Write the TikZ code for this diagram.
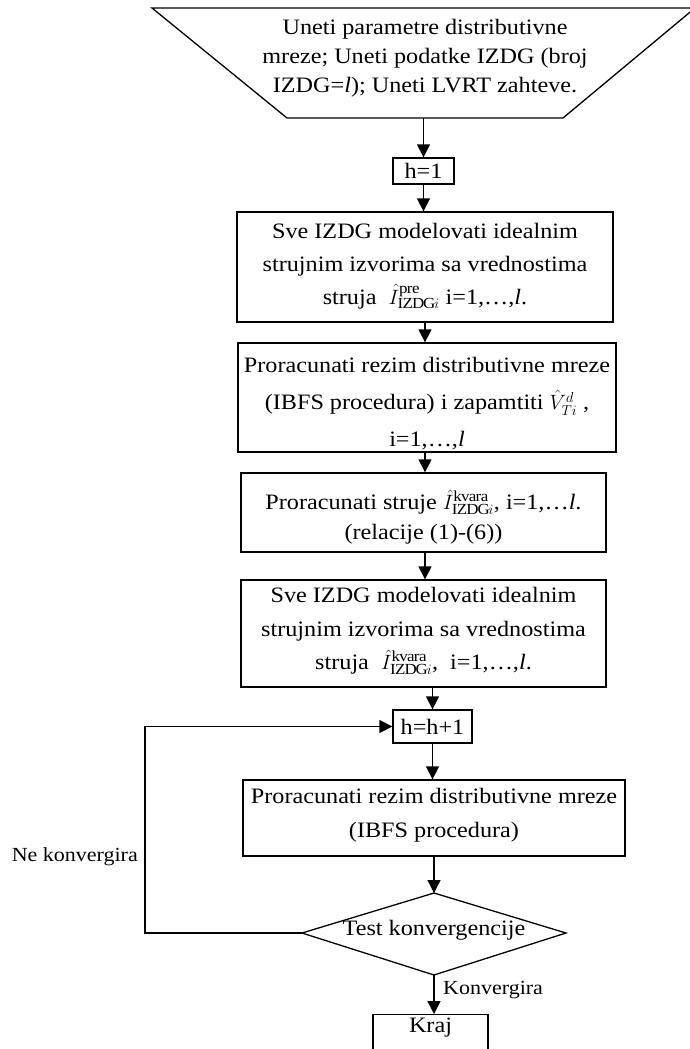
\documentclass[tikz,border=0pt]{standalone}
\usepackage{fontspec}
\setmainfont{Liberation Serif}[FakeStretch=1.1]
\usetikzlibrary{arrows.meta}
\begin{document}
\begin{tikzpicture}[x=1pt,y=-1pt,
  frame/.style={draw, line width=1.3pt, inner sep=0pt},
  txt/.style={align=center, inner sep=0pt, font=\fontsize{22}{#1}\selectfont},
  txt/.default=33,
  arr/.style={line width=1.3pt, -{Triangle[length=13pt,width=13pt]}},
  lbl/.style={inner sep=0pt, font=\fontsize{20}{24}\selectfont}
]
\useasboundingbox (0,0) rectangle (690,1049);
% input trapezoid
\draw[line width=1.3pt] (152,8) -- (695,8) -- (563,118) -- (287,118) -- cycle;
\node[txt=29] (intxt) at (425,58) {Uneti parametre distributivne\\mreze; Uneti podatke IZDG (broj\\IZDG=\textit{l}); Uneti LVRT zahteve.};
\coordinate (inb) at (423.5,118);
% h=1
\node[frame, minimum width=61pt, minimum height=26pt, font=\fontsize{22}{26}\selectfont] (h1) at (423.5,171) {h=1};
% box 2
\node[frame, minimum width=376pt, minimum height=110pt] (b2) at (425,267) {};
\node[txt=33] (b2t) at (425,266) {Sve IZDG modelovati idealnim\\strujnim izvorima sa vrednostima\\struja \ $\hat{I}^{\mathrm{pre}}_{\mathrm{IZDG}i}$ i=1,\ldots,\textit{l}.};
% box 3
\node[frame, minimum width=378pt, minimum height=109pt] (b3) at (427,397.5) {};
\node[txt=37] (b3t) at (427,404) {Proracunati rezim distributivne mreze\\(IBFS procedura) i zapamtiti $\hat{V}^{d}_{Ti}$ ,\\i=1,\ldots,\textit{l}};
% box 4
\node[frame, minimum width=365pt, minimum height=79pt] (b4) at (423.5,512.5) {};
\node[txt=30] (b4t) at (423.5,517) {Proracunati struje $\hat{I}^{\mathrm{kvara}}_{\mathrm{IZDG}i}$, i=1,\ldots\textit{l}.\\(relacije (1)-(6))};
% box 5
\node[frame, minimum width=365pt, minimum height=107pt] (b5) at (423.5,633.5) {};
\node[txt=33.5] (b5t) at (423.5,631) {Sve IZDG modelovati idealnim\\strujnim izvorima sa vrednostima\\struja \ $\hat{I}^{\mathrm{kvara}}_{\mathrm{IZDG}i}$, \ i=1,\ldots,\textit{l}.};
% h=h+1
\node[frame, minimum width=79pt, minimum height=33pt, font=\fontsize{22}{26}\selectfont] (h2) at (432.5,726.5) {h=h+1};
% box 6
\node[frame, minimum width=382pt, minimum height=76pt] (b6) at (434,818) {};
\node[txt=34] (b6t) at (434,815) {Proracunati rezim distributivne mreze\\(IBFS procedura)};
% decision
\coordinate (dT) at (434,893);
\coordinate (dL) at (302,933);
\coordinate (dB) at (434,975);
\coordinate (dR) at (566,933);
\draw[line width=1.3pt] (dT) -- (dR) -- (dB) -- (dL) -- cycle;
\node[txt] (test) at (434,930) {Test konvergencije};
% end
\node[frame, anchor=north, minimum width=115pt, minimum height=60pt] (kraj) at (430.5,1014) {};
\node[txt] (krajt) at (430.5,1028) {Kraj};
% loop corner
\coordinate (lc) at (145,933);
% labels
\node[lbl, anchor=east] (nek) at (138,857) {Ne konvergira};
\node[lbl, anchor=west] (kon) at (443,990) {Konvergira};
% connectors
\draw[arr] (inb) -- (h1.north);
\draw[arr] (h1.south) -- (h1.south |- b2.north);
\draw[arr] (b2.south) -- (b2.south |- b3.north);
\draw[arr] (b3.south -| b2.south) -- (b2.south |- b4.north);
\draw[arr] (b4.south -| b2.south) -- (b2.south |- b5.north);
\draw[arr] (b5.south -| h2.north) -- (h2.north);
\draw[arr] (h2.south) -- (h2.south |- b6.north);
\draw[arr] (b6.south -| dT) -- (dT);
\draw[arr] (dB) -- (kraj.north -| dB);
\draw[arr] (dL) -- (lc) |- (h2.west);
\end{tikzpicture}
\end{document}
